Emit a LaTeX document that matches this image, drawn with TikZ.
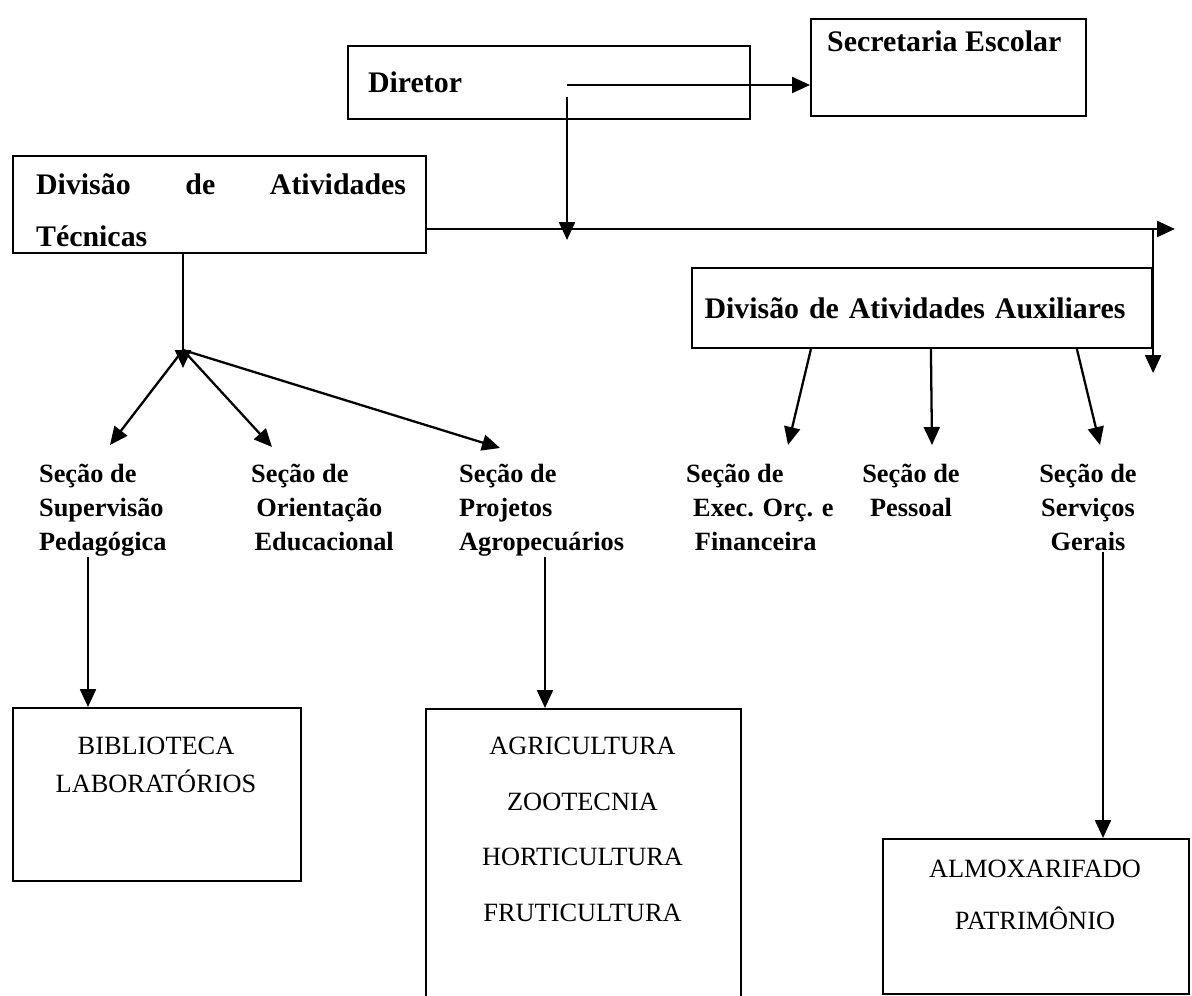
\documentclass[tikz,border=0pt]{standalone}
\usepackage{fontspec}
\setmainfont{Liberation Serif}
\usepackage{tikz}
\usetikzlibrary{arrows.meta, calc}

\begin{document}
\begin{tikzpicture}[x = 0.02cm, y = -0.02cm, line width = 1.3pt,
  box/.style = {draw, inner sep = 0pt},
  head/.style = {font = \fontsize{17}{29.5}\selectfont\bfseries},
  sec/.style = {font = \fontsize{15}{19.3}\selectfont\bfseries, inner sep = 0pt},
  unit/.style = {font = \fontsize{15}{18}\selectfont, inner sep = 0pt, align = center, anchor = north},
  arr/.style = {-{Triangle[length = 0.36cm, width = 0.32cm]}}]
\useasboundingbox (0,0) rectangle (1192,996);
\clip (0,0) rectangle (1192,996);
\node[box, head, text width = 7.24cm, inner xsep = 0.4cm, minimum height = 1.46cm, align = left] (dir) at (549,82.5) {Diretor};
\node[box, minimum width = 5.5cm, minimum height = 1.94cm, anchor = north west] (sec) at (810,18) {};
\node[head, inner sep = 0pt, anchor = north west] (sectxt) at (826,30) {Secretaria Escolar};
\node[box, minimum width = 8.26cm, minimum height = 1.94cm, anchor = north west] (tec) at (12,155) {};
\node[head, inner sep = 0pt, text width = 7.4cm, align = left, anchor = north west] (tectxt) at (35,173) {Divisão\hfill de\hfill Atividades\\Técnicas};
\node[box, head, text width = 8.9cm, inner xsep = 0.15cm, minimum height = 1.6cm, align = left] (aux) at (922,308) {\hspace*{0.1cm}Divisão de Atividades Auxiliares};
\node[sec, align = left, anchor = north west] (sup) at (38,463) {Seção de\\Supervisão\\Pedagógica};
\node[sec, align = left, anchor = north west] (ori) at (250,463) {Seção de\\\hspace*{3pt}Orientação\\\hspace*{2pt}Educacional};
\node[sec, align = left, anchor = north west] (proj) at (458,463) {Seção de\\Projetos\\Agropecuários};
\node[sec, align = left, anchor = north west] (exec) at (685,463) {Seção de\\\hspace*{4pt}Exec. Orç. e\\\hspace*{5pt}Financeira};
\node[sec, align = center, anchor = north] (pess) at (911,463) {Seção de\\Pessoal};
\node[sec, align = center, anchor = north] (serv) at (1088,463) {Seção de\\Serviços\\Gerais};
\node[box, minimum width = 5.76cm, minimum height = 3.46cm, anchor = north west] (bib) at (12,707) {};
\node[unit] (bibtxt) at (156,736) {BIBLIOTECA\\[3.5pt]LABORATÓRIOS};
\node[box, minimum width = 6.3cm, minimum height = 6.5cm, anchor = north west] (agr) at (425,708) {};
\node[unit] (agrtxt) at (582.5,736) {AGRICULTURA\\[13.6pt]ZOOTECNIA\\[13.6pt]HORTICULTURA\\[13.6pt]FRUTICULTURA};
\node[box, minimum width = 6.12cm, minimum height = 3.1cm, anchor = north west] (alm) at (882,838) {};
\node[unit] (almtxt) at (1035,859) {ALMOXARIFADO\\[11.5pt]PATRIMÔNIO};
\coordinate (dirhub) at (567,85);
\coordinate (bus) at (1175,229);
\coordinate (tecfork) at (183,350);
\draw[arr] (dirhub) -- (dirhub -| sec.west);
\draw[arr] ($(dirhub)+(0,12)$) -- ($(dirhub |- bus)+(0,11)$);
\draw[arr] (tec.east |- bus) -- (bus);
\draw[arr] (aux.east |- bus) -- ($(aux.south east)+(0,24)$);
\draw[arr] (tecfork |- tec.south) -- ($(tecfork)+(0,18)$);
\draw[arr] (tecfork) -- ($(sup.north west)+(72,-18)$);
\draw[arr] (tecfork) -- ($(ori.north west)+(22,-16)$);
\draw[arr] (tecfork) -- ($(proj.north west)+(42,-15)$);
\draw[arr] ($(aux.south west)+(120,0)$) -- ($(exec.north west)+(103,-18)$);
\draw[arr] ($(aux.south west)+(240,0)$) -- ($(pess.north)+(21,-18)$);
\draw[arr] ($(aux.south west)+(386,0)$) -- ($(serv.north)+(12,-18)$);
\draw[arr] ($(sup.south west)+(50,0)$) -- ($(bib.north west)+(76,0)$);
\draw[arr] ($(proj.south west)+(87,0)$) -- ($(agr.north west)+(120,0)$);
\draw[arr] ($(serv.south)+(15,0)$) -- ($(alm.north west)+(221,0)$);
\end{tikzpicture}
\end{document}
